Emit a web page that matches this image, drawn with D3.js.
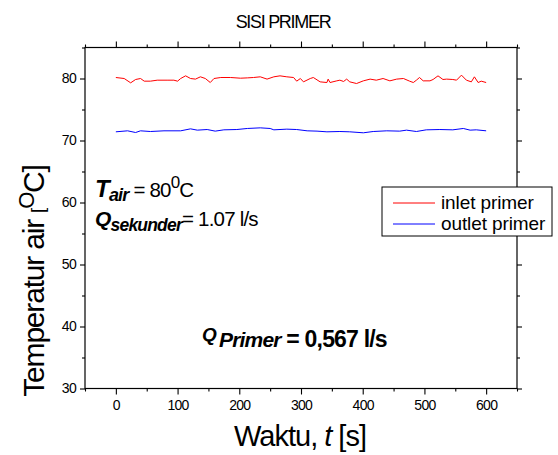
<!DOCTYPE html>
<html><head><meta charset="utf-8">
<script src="https://cdn.jsdelivr.net/npm/d3@7"></script>
<style>
body{margin:0;background:#fff;}
text{font-family:"Liberation Sans",Arial,sans-serif;fill:#000;}
</style></head>
<body><svg id="c" width="558" height="455"></svg>
<script>
// Data
const inletTime = [0,13.5,24,32,40,46,56,67,83,94,100,105,113,121,129,137,145,153,159,170,186,202,213,223,234,245,256,266,277,288,293,299,304,315,320,331,342,344,347,358,363,369,374,379,390,401,412,422,433,444,455,466,476,482,487,492,498,509,514,522,530,536,546,552,560,568,576,581,587,592,600];
const inletTemp = [80.16,80.0,79.3,79.84,80.0,79.57,79.57,79.73,79.73,79.73,79.57,80.0,80.43,80.0,79.9,80.27,80.0,79.35,80.0,80.16,80.16,80.05,80.1,80.16,80.27,79.9,80.27,80.43,80.27,80.16,79.57,80.0,79.46,80.0,80.16,79.46,79.35,79.9,79.35,79.62,79.73,79.52,79.9,79.46,79.19,79.62,79.9,79.73,80.0,79.62,79.9,80.0,79.57,79.35,79.73,80.16,79.62,79.62,79.84,80.43,79.84,79.9,79.84,79.73,80.54,79.73,79.46,80.27,79.35,79.57,79.35];
const outletTime = [0,19,32,40,56,78,105,121,132,148,161,175,196,213,234,250,256,277,293,310,326,342,363,379,401,417,439,460,471,487,503,525,546,563,574,584,600];
const outletTemp = [71.40,71.56,71.29,71.56,71.45,71.56,71.56,71.88,71.67,71.77,71.51,71.72,71.77,71.94,72.04,71.94,71.72,71.83,71.77,71.56,71.51,71.40,71.45,71.40,71.24,71.45,71.56,71.51,71.67,71.45,71.72,71.77,71.72,71.94,71.67,71.72,71.56];
const xTicks = [0,100,200,300,400,500,600];
const yTicks = [30,40,50,60,70,80];
const seriesNames = ["inlet primer","outlet primer"];
const seriesColors = ["#ff0000","#0000ff"];

const svg = d3.select("#c");
const L=85,R=517,T=47.5,B=388.5;
const x = d3.scaleLinear().domain([-50,650]).range([L,R]);
const y = d3.scaleLinear().domain([30,85]).range([B,T]);

// frame
svg.append("rect").attr("x",L).attr("y",T).attr("width",R-L).attr("height",B-T)
  .attr("fill","none").attr("stroke","#000").attr("stroke-width",1.2);

const xMinor = d3.range(-50,651,50);
const yMinor = d3.range(30,86,5);
function axisG(axis, tr){ const g=svg.append("g").attr("transform",tr).call(axis); g.select(".domain").remove(); g.selectAll("line").attr("stroke-width",1.1); return g;}
// bottom
axisG(d3.axisBottom(x).tickValues(xMinor.filter(v=>v%100!==0)).tickSize(3).tickFormat(""),`translate(0,${B})`);
const bx = axisG(d3.axisBottom(x).tickValues(xTicks).tickSize(6).tickPadding(6),`translate(0,${B})`);
bx.selectAll("text").attr("font-size",14).attr("letter-spacing","-0.7px").attr("font-family","Liberation Sans, Arial, sans-serif");
// top
axisG(d3.axisTop(x).tickValues(xMinor.filter(v=>v%100!==0)).tickSize(3).tickFormat(""),`translate(0,${T})`);
axisG(d3.axisTop(x).tickValues(xTicks).tickSize(6).tickFormat(""),`translate(0,${T})`);
// left
axisG(d3.axisLeft(y).tickValues(yMinor.filter(v=>v%10!==0)).tickSize(3).tickFormat(""),`translate(${L},0)`);
const ly = axisG(d3.axisLeft(y).tickValues(yTicks).tickSize(5).tickPadding(4),`translate(${L},0)`);
ly.selectAll("text").attr("font-size",14).attr("letter-spacing","-0.7px").attr("font-family","Liberation Sans, Arial, sans-serif");
// right
axisG(d3.axisRight(y).tickValues(yMinor.filter(v=>v%10!==0)).tickSize(3).tickFormat(""),`translate(${R},0)`);
axisG(d3.axisRight(y).tickValues(yTicks).tickSize(5).tickFormat(""),`translate(${R},0)`);

// lines
const line = d3.line().x(d=>x(d[0])).y(d=>y(d[1]));
svg.append("path").datum(inletTime.map((t,i)=>[t,inletTemp[i]]))
  .attr("d",line).attr("fill","none").attr("stroke",seriesColors[0]).attr("stroke-width",1);
svg.append("path").datum(outletTime.map((t,i)=>[t,outletTemp[i]]))
  .attr("d",line).attr("fill","none").attr("stroke",seriesColors[1]).attr("stroke-width",1);

// title
svg.append("text").attr("x",283).attr("y",28).attr("text-anchor","middle")
  .attr("font-size",18).attr("letter-spacing","-1.3px").text("SISI PRIMER");

// x label
const xl = svg.append("text").attr("x",300).attr("y",446).attr("text-anchor","middle")
  .attr("font-size",29).attr("letter-spacing","-1px");
xl.append("tspan").text("Waktu, ");
xl.append("tspan").attr("font-style","italic").text("t");
xl.append("tspan").text(" [s]");

// y label
const yl = svg.append("text").attr("transform","translate(44,281) rotate(-90)").attr("text-anchor","middle")
  .attr("font-size",30).attr("letter-spacing","-1.2px");
yl.append("tspan").text("Temperatur air ");
yl.append("tspan").attr("font-size",19).text("[");
yl.append("tspan").attr("dy",-10).attr("font-size",22).text("O");
yl.append("tspan").attr("dy",10).text("C]");

// annotations
const a1 = svg.append("text").attr("x",95).attr("y",197).attr("letter-spacing","-0.8px");
a1.append("tspan").attr("font-size",24).attr("font-weight","bold").attr("font-style","italic").text("T");
a1.append("tspan").attr("font-size",18).attr("font-weight","bold").attr("font-style","italic").attr("dy",4).text("air");
a1.append("tspan").attr("font-size",20.5).attr("dy",-4).text(" = 80");
a1.append("tspan").attr("font-size",17).attr("dy",-9).text("0");
a1.append("tspan").attr("font-size",20.5).attr("dy",9).text("C");

const a2 = svg.append("text").attr("x",95).attr("y",226).attr("letter-spacing","-0.8px");
a2.append("tspan").attr("font-size",21).attr("font-weight","bold").attr("font-style","italic").text("Q");
a2.append("tspan").attr("font-size",17.5).attr("font-weight","bold").attr("font-style","italic").attr("dy",5).text("sekunder");
a2.append("tspan").attr("font-size",20.5).attr("dy",-5).text("= 1.07 l/s");

const a3 = svg.append("text").attr("x",202).attr("y",341).attr("letter-spacing","-0.8px");
a3.append("tspan").attr("font-size",19).attr("font-weight","bold").attr("font-style","italic").text("Q");
a3.append("tspan").attr("font-size",21).attr("font-weight","bold").attr("font-style","italic").attr("dx",3).attr("dy",6).text("Primer");
a3.append("tspan").attr("font-size",23).attr("font-weight","bold").text(" = 0,567 l/s");

// legend
const lg = svg.append("g");
lg.append("rect").attr("x",382).attr("y",187).attr("width",170).attr("height",49)
  .attr("fill","#fff").attr("stroke","#000").attr("stroke-width",1);
seriesNames.forEach((n,i)=>{
  const yy = 203 + i*21;
  lg.append("line").attr("x1",393).attr("x2",435).attr("y1",yy).attr("y2",yy).attr("stroke",seriesColors[i]).attr("stroke-width",1);
  lg.append("text").attr("x",441).attr("y",yy+6).attr("font-size",19).attr("letter-spacing","-0.1px").text(n);
});
</script>
</body></html>
